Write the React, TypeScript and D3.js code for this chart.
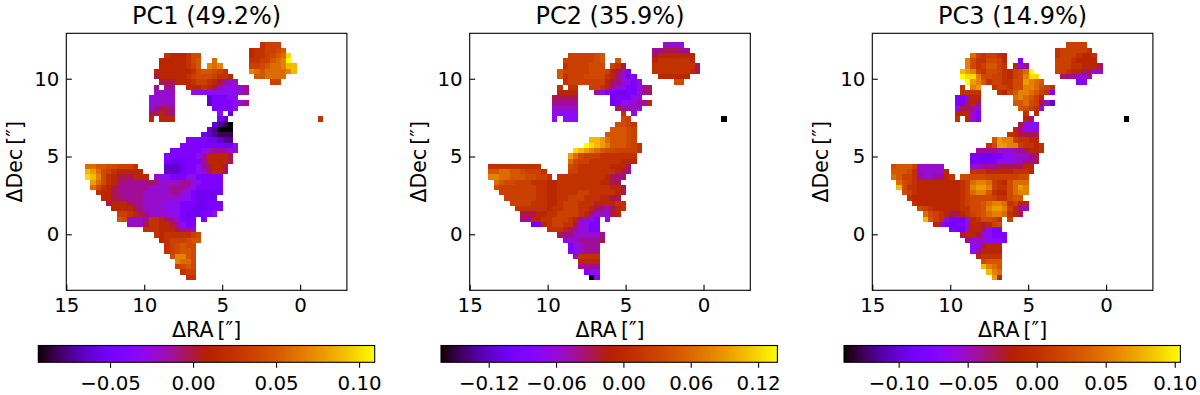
import React, { useEffect, useRef } from "react";
import * as d3 from "d3";

// each row: "startColumn cells startColumn cells ..."; a cell is a letter indexing the levels below
const pc1Rows = [
  "33 lmmm",
  "31 kllmmno",
  "15 lkkklnn 31 kllmnopt",
  "14 kkkkklno 24 p 31 llmmopqu",
  "14 kkkkklmo 23 qpq 31 mmnoppqss",
  "13 kkkkkkklnoonml 31 qpoppppqs",
  "13 jkkkkklmnnnmllk 32 oopppp",
  "14 jjjkkklmmlkjihh 35 mm",
  "13 i 15 ii 19 kkklkjhgghhi",
  "13 hhhh 20 hgggggggghi",
  "12 ghhhh 23 dfffgg",
  "12 ghhhh 23 dffffghi",
  "12 hijji 24 ffffg",
  "12 jjkji 25 g 27 d",
  "12 k 14 kkk 25 ed 44 l",
  "24 dcba",
  "23 dcaaa",
  "22 edcbbb",
  "19 ffffeedcc",
  "18 ffffffffeeg",
  "16 ffffffghiiihh",
  "15 ffffffgikkkkj",
  "15 feeefffikkkkj",
  "0 ppoonnmmml 15 dddeffgijkkj",
  "0 srpnmlkkkkk 15 dddeffghjkkj",
  "0 tsqnlkjjjkkk 13 hggfffggfffff",
  "1 rpnlkjiiiiijihhhhiihgffff",
  "1 pnlkjiiiiiihhhhiiihgfffff",
  "2 lkkjiiiiihhhhhiihgfeeeee",
  "3 kkjjiiiihhhhhhhggfeeee",
  "4 jkkkjiihhhhgggfffeefff",
  "5 kkkkjihhhhgggffeeefff",
  "6 mmlkjihhhhggfeeeffg",
  "6 onhhhillkjihfff 22 f",
  "8 hhhjllkkjigff",
  "11 lllkkkjiih",
  "13 lklllllmn",
  "14 klmmmnoo",
  "15 lmnonn",
  "15 lmnoon",
  "16 nqqon",
  "17 qppn",
  "17 mnon",
  "18 lmm",
  "19 ll",
];

const pc2Rows = [
  "33 hhhh",
  "31 iijjjii",
  "15 mmmmmno 31 jkkkkkkk",
  "14 mmmmmmno 24 o 31 kllllllk",
  "14 lmmmmnnn 23 mlj 31 llllllllj",
  "13 ommmmmnnnmkjhf 31 lllllllkj",
  "13 olmmmnnnnlkihff 32 kkkkkk",
  "14 lmmmmmmmkjihgfh 35 nn",
  "13 l 15 ll 19 mmlkihgffgij",
  "13 kkkk 20 igffeeffhij",
  "12 jjjjj 23 efffgh",
  "12 iiiii 23 efgghiik",
  "12 hhhhh 24 jiihg",
  "12 ggggg 25 l 27 g",
  "12 g 14 ggg 25 nm 44 a",
  "24 nnml",
  "23 ooonm",
  "22 oooonm",
  "19 ssrpooonm",
  "18 utsrqooonml",
  "16 tsrqponnmmmml",
  "15 rpnmmmlllllll",
  "15 pnmmllllllkkk",
  "0 llllllllll 15 nmllllllkkkj",
  "0 ooppoonmmml 15 mmlllllllkji",
  "0 qqppooonnmml 13 lllllllllkjij",
  "1 ponnmmmlllkkllllllllkkjj",
  "1 nmmmmmmmllkkllllllllllkkj",
  "2 mmmmmmmllkkllllmmlllllkj",
  "3 mmmmmmllkkllmmmlllkkjj",
  "4 mmmmlllkklmmmlllkkkkll",
  "5 llllllkllmmmllkjihjkl",
  "6 jjjkkllmmmmlkihhhjk",
  "6 iikkllmmmlkihgf 22 g",
  "8 efklmmlljhgff",
  "11 lllkjihgff",
  "13 jiihhhhhi",
  "14 ghhiiiij",
  "15 fghiii",
  "15 fghiii",
  "16 hllll",
  "17 kkkk",
  "17 iiii",
  "18 fgg",
  "19 af",
];

const pc3Rows = [
  "33 mmmm",
  "31 lmmmmml",
  "15 pmlmmlk 31 lmmmlkkl",
  "14 qnllnnmk 24 f 31 mmmlkkkk",
  "14 qnlmooml 23 khi 31 mmmllkkkj",
  "13 srqmlnnmlkmnpu 31 mmlkkjjhh",
  "13 uttqnnmmlkmnqtt 32 jiihhi",
  "14 urqolmmllnnrqpo 35 ff",
  "13 l 15 qr 19 lmmlnnqqpnml",
  "13 llll 20 lkmoqqpomlf",
  "12 ffhkk 23 pqpomk",
  "12 ffjkj 23 oopnmjhd",
  "12 gjjig 24 onmlh",
  "12 kkkhf 25 l 27 k",
  "12 l 14 khf 25 ki 44 a",
  "24 jggg",
  "23 kiggg",
  "22 lkjjjj",
  "19 orqqmllkk",
  "18 lnrrqqmllkl",
  "16 iiiihhhiijkkl",
  "15 ffeeffgghhhij",
  "15 efeffggghhiij",
  "0 nooomhhhhh 15 hhiiijjjjjkk",
  "0 ooonlhhhhhk 15 lllkkkkklllk",
  "0 pommlihhiikl 13 nnnnnmmmmmmnn",
  "1 pnmlkkkkkkkklmpqqpmlknppp",
  "1 snllkkkkkkkklmqrrqmllnprq",
  "2 nmlkkkkkkkklmpqqolkknpqq",
  "3 lkkkkkkkkklmnnnnmllnoo",
  "4 lkkkkkkkklmnnopqqplmkk",
  "5 nmlkkkkkllnnoqrrqmkih",
  "6 pnmlkjjklmnopqqplkj",
  "6 somlgffegklnnml 22 m",
  "8 khfeffhkkjkmn",
  "11 feehkkjgff",
  "13 jkkjhgfff",
  "14 ihhhgggf",
  "15 ggjkkk",
  "15 gikkkk",
  "16 kllll",
  "17 nooo",
  "17 sqpo",
  "18 sqp",
  "19 rk",
];

// value of each cell letter, a to u
const pc1Levels = [-0.0932, -0.0831, -0.0729, -0.0628, -0.0527, -0.0425, -0.0324, -0.0223, -0.0121, -0.002, 0.0132, 0.0243, 0.0344, 0.0405, 0.0486, 0.0588, 0.0689, 0.079, 0.0892, 0.0993, 0.1094];
const pc2Levels = [-0.1625, -0.1475, -0.1326, -0.1176, -0.1026, -0.0876, -0.0727, -0.0577, -0.0427, -0.0277, -0.0052, 0.0113, 0.0263, 0.0343, 0.0473, 0.0623, 0.0772, 0.0922, 0.1072, 0.1222, 0.1372];
const pc3Levels = [-0.1396, -0.1274, -0.1152, -0.1031, -0.0909, -0.0787, -0.0665, -0.0543, -0.0421, -0.0299, -0.0117, 0.0017, 0.0139, 0.0205, 0.031, 0.0432, 0.0553, 0.0675, 0.0797, 0.0919, 0.1041];

const titles = ["PC1 (49.2%)", "PC2 (35.9%)", "PC3 (14.9%)"];
const pc1Ticks = [-0.05, 0, 0.05, 0.1];
const pc2Ticks = [-0.12, -0.06, 0, 0.06, 0.12];
const pc3Ticks = [-0.1, -0.05, 0, 0.05, 0.1];
const raTicks = [15, 10, 5, 0];
const decTicks = [10, 5, 0];

const FONT = "'DejaVu Sans', sans-serif";
const RA_DOMAIN = [15, -3];
const DEC_DOMAIN = [-3.6, 12.92];
const RA0 = 13.8;
const DEC0 = 12.34;
const CELL = 0.3395;

// matplotlib's gnuplot colormap
const gnuplot = (t: number) => {
  const u = Math.max(0, Math.min(1, t));
  const r = Math.round(255 * Math.sqrt(u));
  const g = Math.round(255 * u * u * u);
  const b = Math.round(255 * Math.max(0, Math.sin(2 * Math.PI * u)));
  return `rgb(${r},${g},${b})`;
};

const parseRows = (rows: string[], levels: number[]) => {
  const cells: { col: number; row: number; value: number }[] = [];
  rows.forEach((line, row) => {
    const tokens = line.split(" ");
    for (let i = 0; i < tokens.length; i += 2) {
      const start = +tokens[i];
      [...tokens[i + 1]].forEach((ch, k) => {
        cells.push({ col: start + k, row, value: levels[ch.charCodeAt(0) - 97] });
      });
    }
  });
  return cells;
};

const formatTick = (d: number) => (d < 0 ? "\u2212" : "") + Math.abs(d).toFixed(2);

type PanelProps = {
  title: string;
  rows: string[];
  levels: number[];
  ticks: number[];
  left: number;
  barLeft: number;
};

const Panel = ({ title, rows, levels, ticks, left, barLeft }: PanelProps) => {
  const ref = useRef<SVGGElement>(null);

  useEffect(() => {
    const g = d3.select(ref.current);
    g.selectAll("*").remove();

    const width = 280.6;
    const top = 33.3;
    const bottom = 290.3;
    const x = d3.scaleLinear().domain(RA_DOMAIN).range([left, left + width]);
    const y = d3.scaleLinear().domain(DEC_DOMAIN).range([bottom, top]);

    const vmin = levels[0];
    const vmax = levels[levels.length - 1];
    const color = d3.scaleSequential(gnuplot).domain([vmin, vmax]);

    g.append("g")
      .attr("filter", "url(#soften)")
      .selectAll("rect")
      .data(parseRows(rows, levels))
      .join("rect")
      .attr("x", (d) => Math.round(x(RA0 - d.col * CELL)))
      .attr("y", (d) => Math.round(y(DEC0 - d.row * CELL)))
      .attr("width", (d) => Math.round(x(RA0 - (d.col + 1) * CELL)) - Math.round(x(RA0 - d.col * CELL)))
      .attr("height", (d) => Math.round(y(DEC0 - (d.row + 1) * CELL)) - Math.round(y(DEC0 - d.row * CELL)))
      .attr("shape-rendering", "crispEdges")
      .attr("fill", (d) => color(d.value));

    g.append("rect")
      .attr("x", left)
      .attr("y", top)
      .attr("width", width)
      .attr("height", bottom - top)
      .attr("fill", "none")
      .attr("stroke", "black")
      .attr("stroke-width", 1.1);

    const xAxis = g
      .append("g")
      .attr("transform", `translate(0,${bottom})`)
      .call(d3.axisBottom(x).tickValues(raTicks).tickSize(-5.5).tickPadding(8).tickFormat(d3.format("d")));
    const yAxis = g
      .append("g")
      .attr("transform", `translate(${left},0)`)
      .call(d3.axisLeft(y).tickValues(decTicks).tickSize(-5.5).tickPadding(7).tickFormat(d3.format("d")));
    [xAxis, yAxis].forEach((a) => {
      a.select(".domain").remove();
      a.selectAll("line").attr("stroke-width", 1.1);
      a.selectAll("text").attr("font-family", FONT).attr("font-size", 19.8).attr("fill", "black");
    });

    g.append("text")
      .attr("x", left + width / 2)
      .attr("y", 24)
      .attr("text-anchor", "middle")
      .attr("font-family", FONT)
      .attr("font-size", 24)
      .text(title);
    g.append("text")
      .attr("x", left + width / 2)
      .attr("y", 337)
      .attr("text-anchor", "middle")
      .attr("font-family", FONT)
      .attr("font-size", 20.5)
      .text("\u0394RA\u2009[\u2033]");
    g.append("text")
      .attr("transform", `translate(${left - 44},${(top + bottom) / 2}) rotate(-90)`)
      .attr("text-anchor", "middle")
      .attr("font-family", FONT)
      .attr("font-size", 20.5)
      .text("\u0394Dec\u2009[\u2033]");

    // colorbar
    const barWidth = 336.4;
    const barTop = 345.5;
    const barHeight = 16.8;
    const bar = d3.scaleLinear().domain([vmin, vmax]).range([barLeft, barLeft + barWidth]);
    const steps = d3.range(0, 256).map((i) => vmin + ((vmax - vmin) * i) / 256);
    g.append("g")
      .selectAll("rect")
      .data(steps)
      .join("rect")
      .attr("x", (d) => Math.floor(bar(d)))
      .attr("y", barTop)
      .attr("width", (d) => Math.min(3, barLeft + barWidth - Math.floor(bar(d))))
      .attr("height", barHeight)
      .attr("shape-rendering", "crispEdges")
      .attr("fill", (d) => color(d));
    g.append("rect")
      .attr("x", barLeft)
      .attr("y", barTop)
      .attr("width", barWidth)
      .attr("height", barHeight)
      .attr("fill", "none")
      .attr("stroke", "black")
      .attr("stroke-width", 1.1);
    const barAxis = g
      .append("g")
      .attr("transform", `translate(0,${barTop + barHeight})`)
      .call(d3.axisBottom(bar).tickValues(ticks).tickSize(5.5).tickPadding(8).tickFormat(formatTick));
    barAxis.select(".domain").remove();
    barAxis.selectAll("line").attr("stroke-width", 1.1);
    barAxis.selectAll("text").attr("font-family", FONT).attr("font-size", 19.8).attr("fill", "black");
  }, [title, rows, levels, ticks, left, barLeft]);

  return <g ref={ref} />;
};

export default function App() {
  return (
    <svg
      width={1200}
      height={395}
      style={{ position: "absolute", left: 0, top: 0, background: "white" }}
    >
      <defs>
        <filter id="soften" x="-5%" y="-5%" width="110%" height="110%">
          <feGaussianBlur stdDeviation="0.6" />
        </filter>
      </defs>
      <Panel title={titles[0]} rows={pc1Rows} levels={pc1Levels} ticks={pc1Ticks} left={66.3} barLeft={38.3} />
      <Panel title={titles[1]} rows={pc2Rows} levels={pc2Levels} ticks={pc2Ticks} left={469.7} barLeft={441} />
      <Panel title={titles[2]} rows={pc3Rows} levels={pc3Levels} ticks={pc3Ticks} left={872.3} barLeft={844} />
    </svg>
  );
}
